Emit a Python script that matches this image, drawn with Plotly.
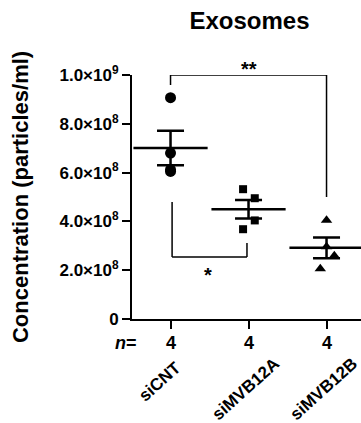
import plotly.graph_objects as go
import numpy as np

# ---- data ----
categories = ["siCNT", "siMVB12A", "siMVB12B"]
n_values = [4, 4, 4]
siCNT = [0.907e9, 0.680e9, 0.612e9, 0.605e9]
siMVB12A = [0.532e9, 0.495e9, 0.404e9, 0.368e9]
siMVB12B = [0.405e9, 0.296e9, 0.259e9, 0.206e9]
jitter_siCNT = [0.0, 0.0, 0.0, 0.0]
jitter_siMVB12A = [-0.07, 0.08, 0.08, -0.07]
jitter_siMVB12B = [0.0, 0.0, 0.1, -0.08]
ytick_vals = [0, 2e8, 4e8, 6e8, 8e8, 1e9]
ytick_text = ["0", "2.0×10<sup>8</sup>", "4.0×10<sup>8</sup>", "6.0×10<sup>8</sup>",
              "8.0×10<sup>8</sup>", "1.0×10<sup>9</sup>"]

groups = [siCNT, siMVB12A, siMVB12B]
jitters = [jitter_siCNT, jitter_siMVB12A, jitter_siMVB12B]
symbols = ["circle", "square", "triangle-up"]
msizes = [11, 8, 10]

FONT = "Liberation Sans, Arial, Helvetica, sans-serif"

fig = go.Figure()

for i, (vals, jit) in enumerate(zip(groups, jitters)):
    arr = np.array(vals)
    mean = arr.mean()
    sem = arr.std(ddof=1) / np.sqrt(len(arr))
    fig.add_trace(go.Scatter(
        x=[i + j for j in jit], y=vals, mode="markers",
        marker=dict(symbol=symbols[i], size=msizes[i], color="black"),
        showlegend=False, cliponaxis=False))
    fig.add_trace(go.Scatter(
        x=[i], y=[mean], mode="markers",
        marker=dict(symbol="line-ew", size=53, color="black",
                    line=dict(color="black", width=2.5)),
        error_y=dict(type="data", array=[sem], visible=True, color="black",
                     thickness=2.5, width=13.5),
        showlegend=False, cliponaxis=False))

# significance brackets
line = dict(color="black", width=1.5)
fig.add_shape(type="line", xref="x", yref="y", x0=0, x1=0, y0=0.959e9, y1=1e9, line=line)
fig.add_shape(type="line", xref="x", yref="y", x0=0, x1=2, y0=1e9, y1=1e9, line=line)
fig.add_shape(type="line", xref="x", yref="y", x0=2, x1=2, y0=0.5e9, y1=1e9, line=line)
fig.add_shape(type="line", xref="x", yref="y", x0=0.02, x1=0.02, y0=0.254e9, y1=0.48e9, line=line)
fig.add_shape(type="line", xref="x", yref="y", x0=0.02, x1=0.98, y0=0.254e9, y1=0.254e9, line=line)
fig.add_shape(type="line", xref="x", yref="y", x0=0.98, x1=0.98, y0=0.254e9, y1=0.311e9, line=line)

annots = []
annots.append(dict(text="<b>**</b>", x=1, y=1e9, xref="x", yref="y", showarrow=False,
                   yanchor="bottom", yshift=-7, font=dict(family=FONT, size=20, color="black")))
annots.append(dict(text="<b>*</b>", x=0.48, y=0.2e9, xref="x", yref="y", showarrow=False,
                   yanchor="middle", yshift=-5, font=dict(family=FONT, size=20, color="black")))

annots.append(dict(text="<b><i>n</i>=</b>", x=0.03, y=-0.098, xref="paper", yref="paper",
                   xanchor="right", yanchor="middle", showarrow=False,
                   font=dict(family=FONT, size=18, color="black")))
for i, n in enumerate(n_values):
    annots.append(dict(text=f"<b>{n}</b>", x=i, y=-0.098, xref="x", yref="paper",
                       xanchor="center", yanchor="middle", showarrow=False,
                       font=dict(family=FONT, size=18, color="black")))

label_centers = [(-0.135, -0.256), (0.955, -0.287), (1.955, -0.287)]
for i, cat in enumerate(categories):
    cx, cy = label_centers[i]
    annots.append(dict(text=f"<b>{cat}</b>", x=cx, y=cy, xref="x", yref="paper",
                       xanchor="center", yanchor="middle", textangle=-42, showarrow=False,
                       font=dict(family=FONT, size=17, color="black")))

annots.append(dict(text="<b>Concentration (particles/ml)</b>", x=-0.489, y=0.5,
                   xref="paper", yref="paper", xanchor="center", yanchor="middle",
                   textangle=-90, showarrow=False,
                   font=dict(family=FONT, size=22, color="black")))

fig.update_layout(
    width=361, height=423,
    margin=dict(l=132, r=0, t=75, b=104),
    paper_bgcolor="white", plot_bgcolor="white",
    title=dict(text="<b>Exosomes</b>", x=249.5 / 361, y=1 - 21 / 423,
               xanchor="center", yanchor="middle", xref="container", yref="container",
               font=dict(family=FONT, size=24, color="black")),
    annotations=annots,
    showlegend=False,
    xaxis=dict(range=[-0.494, 2.442], showgrid=False, zeroline=False,
               showline=True, linecolor="black", linewidth=2,
               tickvals=[0, 1, 2], ticks="outside", ticklen=8, tickwidth=2,
               tickcolor="black", showticklabels=False),
    yaxis=dict(range=[0, 1e9], showgrid=False, zeroline=False,
               showline=True, linecolor="black", linewidth=2,
               tickvals=ytick_vals, ticktext=ytick_text, ticks="outside",
               ticklen=8, tickwidth=2, tickcolor="black",
               tickfont=dict(family=FONT, size=17, color="black", weight="bold")),
)

fig.write_html("out.html", config={"displayModeBar": False},
               post_script="document.body.style.margin='0';document.body.style.overflow='hidden';")
